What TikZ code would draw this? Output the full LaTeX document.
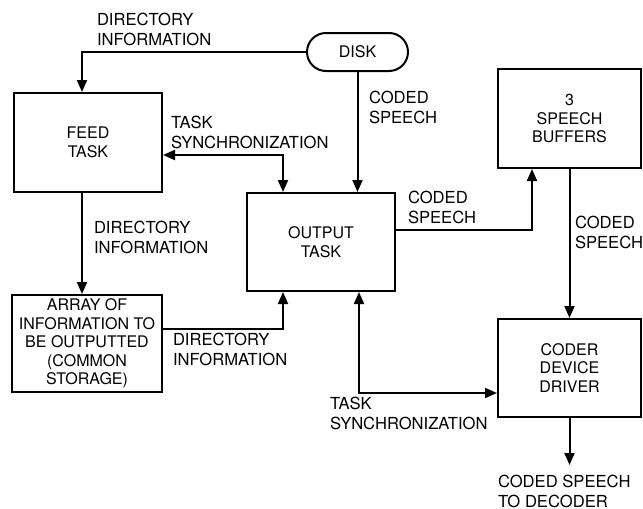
\documentclass[tikz,border=0pt]{standalone}
\usepackage{fontspec}
\setmainfont{TeX Gyre Heros}
\usetikzlibrary{arrows.meta}

\begin{document}
\begin{tikzpicture}[x=0.5pt,y=-0.5pt,line width=1pt,
    >={Triangle[length=6pt,width=5pt]},
    box/.style={draw,align=center,inner sep=0pt,font=\fontsize{8}{9.2}\selectfont},
    diskbox/.style={draw,rounded corners=9.5pt,minimum width=50.5pt,minimum height=19pt,inner sep=0pt,font=\fontsize{8}{9.2}\selectfont},
    lbl/.style={anchor=base west,align=left,inner sep=0pt,font=\fontsize{8.3}{9.8}\selectfont}]
    % picture frame, in pixels of the original (y runs downward)
    \useasboundingbox (0,0) rectangle (643,509);
    % Blocks
    \node[diskbox] (disk) at (357.5,52) {DISK};
    \node[box,minimum width=74pt,minimum height=49.5pt] (feed) at (88,142.5) {FEED\\TASK};
    \node[box,minimum width=74pt,minimum height=49pt] (output) at (321,242) {OUTPUT\\TASK};
    \node[box,minimum width=71.5pt,minimum height=49.5pt] (buffers) at (569.5,118.5) {3\\SPEECH\\BUFFERS};
    \node[box,minimum width=71.5pt,minimum height=49pt] (coder) at (569.5,368) {CODER\\DEVICE\\DRIVER};
    \node[box,minimum width=75pt,minimum height=48.5pt] (array) at (87,343.5) {ARRAY OF\\INFORMATION TO\\BE OUTPUTTED\\(COMMON\\STORAGE)};
    \coordinate (decoder) at (569.5,465);
    % Connectors
    \draw[->] (disk.west) -| ([xshift=-3pt]feed.north);
    \draw[->] (disk.south) -- (disk.south |- output.north);
    \draw[<->] ([yshift=-6.25pt]feed.east) -| ([xshift=-19pt]output.north);
    \draw[->] ([yshift=6pt]output.east) -| ([xshift=-18.75pt]buffers.south);
    \draw[->] (buffers.south) -- (coder.north);
    \draw[<->] ([xshift=19pt]output.south) |- ([yshift=-12.5pt]coder.west);
    \draw[->] (coder.south) -- (decoder);
    \draw[->] ([xshift=-3pt]feed.south) -- ([xshift=-2.5pt]array.north);
    \draw[->] ([yshift=7.25pt]array.east) -| ([xshift=-19pt]output.south);
    % Labels (placed by the baseline of their last line)
    \node[lbl] (dirtop) at (96,45) {DIRECTORY\\INFORMATION};
    \node[lbl] (synctop) at (170,148) {TASK\\SYNCHRONIZATION};
    \node[lbl] (codedisk) at (368,123) {CODED\\SPEECH};
    \node[lbl] (codeout) at (407,223) {CODED\\SPEECH};
    \node[lbl] (codebuf) at (574,248) {CODED\\SPEECH};
    \node[lbl] (dirfeed) at (93,253) {DIRECTORY\\INFORMATION};
    \node[lbl] (dirarray) at (172,365) {DIRECTORY\\INFORMATION};
    \node[lbl] (syncbot) at (329,429) {TASK\\SYNCHRONIZATION};
    \node[lbl] (todecoder) at (497,507) {CODED SPEECH\\TO DECODER};
\end{tikzpicture}
\end{document}
